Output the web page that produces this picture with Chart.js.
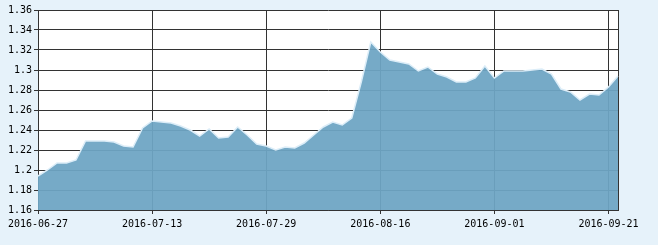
<!DOCTYPE html>
<html>
<head>
<meta charset="utf-8">
<script src="https://cdn.jsdelivr.net/npm/chart.js@4/dist/chart.umd.min.js"></script>
<style>
  html, body { margin: 0; padding: 0; background: #e6f2fa; }
  #wrap { width: 658px; height: 245px; }
</style>
</head>
<body>
<div id="wrap"><canvas id="nav"></canvas></div>
<script>
// trading days (mid-autumn holiday 09-15/16 skipped)
var dates = [
  '2016-06-27', '2016-06-28', '2016-06-29', '2016-06-30', '2016-07-01',
  '2016-07-04', '2016-07-05', '2016-07-06', '2016-07-07', '2016-07-08',
  '2016-07-11', '2016-07-12', '2016-07-13', '2016-07-14', '2016-07-15',
  '2016-07-18', '2016-07-19', '2016-07-20', '2016-07-21', '2016-07-22',
  '2016-07-25', '2016-07-26', '2016-07-27', '2016-07-28', '2016-07-29',
  '2016-08-01', '2016-08-02', '2016-08-03', '2016-08-04', '2016-08-05',
  '2016-08-08', '2016-08-09', '2016-08-10', '2016-08-11', '2016-08-12',
  '2016-08-15', '2016-08-16', '2016-08-17', '2016-08-18', '2016-08-19',
  '2016-08-22', '2016-08-23', '2016-08-24', '2016-08-25', '2016-08-26',
  '2016-08-29', '2016-08-30', '2016-08-31', '2016-09-01', '2016-09-02',
  '2016-09-05', '2016-09-06', '2016-09-07', '2016-09-08', '2016-09-09',
  '2016-09-12', '2016-09-13', '2016-09-14', '2016-09-19', '2016-09-20',
  '2016-09-21', '2016-09-22'
];
var navValues = [
  1.194, 1.200, 1.207, 1.207, 1.210,
  1.229, 1.229, 1.229, 1.228, 1.224,
  1.223, 1.242, 1.249, 1.248, 1.247,
  1.244, 1.240, 1.234, 1.241, 1.232,
  1.233, 1.243, 1.235, 1.226, 1.224,
  1.220, 1.223, 1.222, 1.227, 1.235,
  1.243, 1.248, 1.245, 1.252, 1.288,
  1.328, 1.318, 1.310, 1.308, 1.306,
  1.299, 1.303, 1.296, 1.293, 1.288,
  1.288, 1.292, 1.304, 1.292, 1.299,
  1.299, 1.299, 1.300, 1.301, 1.296,
  1.281, 1.278, 1.270, 1.276, 1.275,
  1.283, 1.294
];
var yMin = 1.16, yMax = 1.36, yStep = 0.02;
var labelEvery = 12;

var gridColor = '#333333';
var tickFont = { family: 'DejaVu Sans Mono', size: 10 };

// white plot area on the blue page
var plotBg = {
  id: 'plotBg',
  beforeDraw: function (chart) {
    var a = chart.chartArea, ctx = chart.ctx;
    ctx.save();
    ctx.fillStyle = '#ffffff';
    ctx.fillRect(a.left, a.top, a.right - a.left, a.bottom - a.top);
    ctx.restore();
  }
};

var chart = new Chart(document.getElementById('nav'), {
  type: 'line',
  data: {
    labels: dates,
    datasets: [{
      data: navValues,
      fill: 'start',
      backgroundColor: 'rgba(109,165,196,0.94)',
      borderColor: '#dcedf8',
      borderWidth: 1.5,
      pointRadius: 0,
      tension: 0
    }]
  },
  options: {
    responsive: true,
    maintainAspectRatio: false,
    animation: false,
    events: [],
    layout: { padding: { top: 10, right: 39, left: 0, bottom: 0 } },
    plugins: { legend: { display: false }, tooltip: { enabled: false } },
    scales: {
      x: {
        type: 'category',
        offset: false,
        grid: { color: gridColor, lineWidth: 1, tickLength: 4, drawOnChartArea: true },
        border: { color: gridColor },
        ticks: {
          autoSkip: false,
          maxRotation: 0,
          color: '#000',
          font: tickFont,
          padding: 4,
          callback: function (v, i) { return i % labelEvery === 0 ? dates[i] : null; }
        },
        afterFit: function (s) { s.height = 35; }
      },
      y: {
        min: yMin,
        max: yMax,
        grid: { color: gridColor, lineWidth: 1, tickLength: 4 },
        border: { color: gridColor },
        ticks: {
          stepSize: yStep,
          color: '#000',
          font: tickFont,
          padding: 2,
          callback: function (v) { return +v.toFixed(2); }
        },
        afterFit: function (s) { s.width = 38; }
      },
      y2: {
        position: 'right',
        min: yMin,
        max: yMax,
        grid: { drawOnChartArea: false, drawTicks: false },
        border: { color: gridColor },
        ticks: { display: false },
        afterFit: function (s) { s.width = 1; }
      }
    }
  },
  plugins: [plotBg]
});
</script>
</body>
</html>
